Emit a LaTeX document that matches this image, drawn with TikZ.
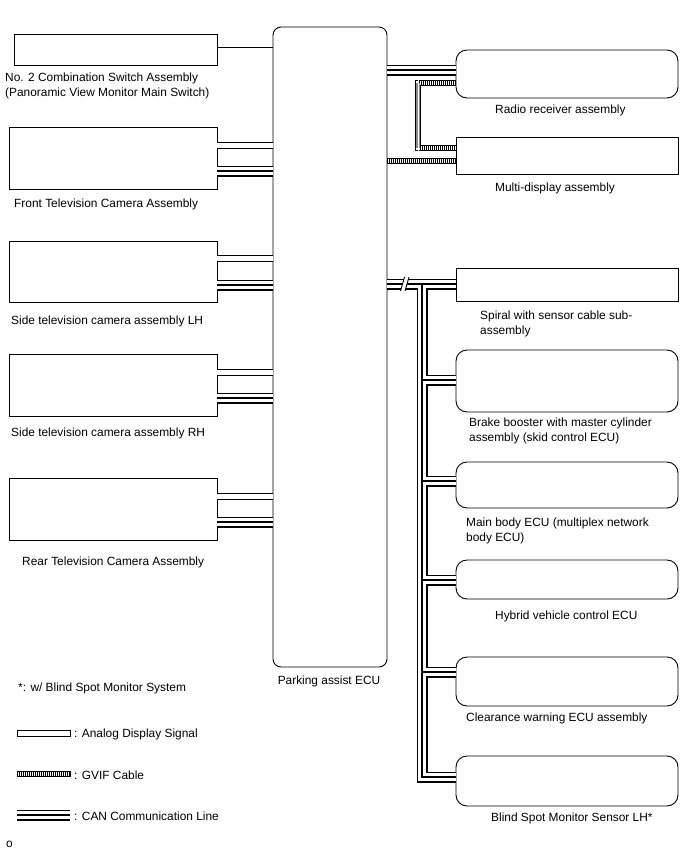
\documentclass[tikz,border=0pt]{standalone}
\usepackage{fontspec}
\setmainfont{Liberation Sans}
\begin{document}
\begin{tikzpicture}[x=1pt,y=-1pt,
  font=\fontsize{11.9}{15}\selectfont,
  box/.style={draw, line width=0.9pt, inner sep=0pt, outer sep=0pt, anchor=north west},
  rbox/.style={box, rounded corners=11pt},
  lbl/.style={anchor=west, inner sep=0pt, align=left, yshift=-1.5pt},
  wire/.style={line width=0.9pt},
  analog/.style={draw=black, double=white, double distance=5pt, line width=1pt},
  can/.style={line width=1.4pt, preaction={draw, solid, black, line width=11pt}, preaction={draw, solid, white, line width=8pt}},
  gvifbase/.style={draw, solid, black, line width=6pt, postaction={draw, solid, white, line width=4pt}},
  hatch/.style={line width=4pt, dash pattern=on 0.8pt off 1.2pt},
  gvif/.style={hatch, preaction={draw, solid, black, line width=6pt}, preaction={draw, solid, white, line width=4pt}}]
\useasboundingbox (0,0) rectangle (688,852);

% left boxes
\node[box, minimum width=203, minimum height=31] (sw) at (14,34) {};
\node[box, minimum width=208, minimum height=62] (front) at (9,127) {};
\node[box, minimum width=208, minimum height=61] (sidelh) at (9,241) {};
\node[box, minimum width=208, minimum height=62] (siderh) at (9,354) {};
\node[box, minimum width=208, minimum height=62] (rear) at (9,478) {};
% ECU
\node[box, rounded corners=8pt, minimum width=114, minimum height=640] (ecu) at (273,27) {};
% right boxes
\node[rbox, minimum width=222, minimum height=48] (radio) at (456,50) {};
\node[box, minimum width=222, minimum height=37] (multi) at (456,137) {};
\node[box, minimum width=222, minimum height=33] (spiral) at (456,268) {};
\node[rbox, minimum width=222, minimum height=62] (brake) at (456,350) {};
\node[rbox, minimum width=222, minimum height=46] (body) at (456,462) {};
\node[rbox, minimum width=222, minimum height=39] (hv) at (456,560) {};
\node[rbox, minimum width=222, minimum height=49] (clr) at (456,657) {};
\node[rbox, minimum width=222, minimum height=50] (bsm) at (456,756) {};

% labels
\node[lbl] at (5,84.5) {No. 2 Combination Switch Assembly\\(Panoramic View Monitor Main Switch)};
\node[lbl] at (14,203) {Front Television Camera Assembly};
\node[lbl] at (11,320) {Side television camera assembly LH};
\node[lbl] at (11,432) {Side television camera assembly RH};
\node[lbl] at (22,561) {Rear Television Camera Assembly};
\node[anchor=center, inner sep=0pt, yshift=-1.5pt] at (329,680) {Parking assist ECU};
\node[lbl] at (495,109) {Radio receiver assembly};
\node[lbl] at (495,187) {Multi-display assembly};
\node[lbl] at (480,322) {Spiral with sensor cable sub-\\assembly};
\node[lbl] at (469,429.5) {Brake booster with master cylinder\\assembly (skid control ECU)};
\node[lbl] at (466,529.5) {Main body ECU (multiplex network\\body ECU)};
\node[lbl] at (495,615) {Hybrid vehicle control ECU};
\node[lbl] at (466,717) {Clearance warning ECU assembly};
\node[lbl] at (491,817) {Blind Spot Monitor Sensor LH*};
\node[lbl] at (18,687) {*: w/ Blind Spot Monitor System};
\node[lbl] at (74,733) {: Analog Display Signal};
\node[lbl] at (74,774) {: GVIF Cable};
\node[lbl] at (74,815) {: CAN Communication Line};
\node[lbl] at (6,843) {o};

% left connectors
\draw[wire] (sw.east |- 0,47) -- (ecu.west |- 0,47);
\draw[analog] (front.east |- 0,145) -- (ecu.west |- 0,145);
\draw[can] (front.east |- 0,171) -- (ecu.west |- 0,171);
\draw[analog] (sidelh.east |- 0,258) -- (ecu.west |- 0,258);
\draw[can] (sidelh.east |- 0,285) -- (ecu.west |- 0,285);
\draw[analog] (siderh.east |- 0,372) -- (ecu.west |- 0,372);
\draw[can] (siderh.east |- 0,398) -- (ecu.west |- 0,398);
\draw[analog] (rear.east |- 0,496) -- (ecu.west |- 0,496);
\draw[can] (rear.east |- 0,522) -- (ecu.west |- 0,522);

% right connectors
\draw[can] (ecu.east |- 0,70) -- (radio.west |- 0,70);
\coordinate (gv1) at (418,83);
\coordinate (gv2) at (418,148);
\path[gvifbase] (radio.west |- gv1) -- (gv1) -- (gv2) -- (multi.west |- gv2);
\draw[hatch] (radio.west |- gv1) -- (gv1);
\draw[hatch] (gv2) -- (multi.west |- gv2);
\draw[line width=4pt, black!45] (gv1) -- (gv2);
\draw[line width=0.8pt, white] ([yshift=3pt]gv1) -- ([yshift=-3pt]gv2);
\draw[gvif] (ecu.east |- 0,161) -- (multi.west |- 0,161);

\coordinate (bus) at (422,284);
\draw[can] (ecu.east |- bus) -- (spiral.west |- bus)
  (bus) |- (bsm.west |- 0,777)
  (bus |- 0,380) -- (brake.west |- 0,380)
  (bus |- 0,481) -- (body.west |- 0,481)
  (bus |- 0,580) -- (hv.west |- 0,580)
  (bus |- 0,672) -- (clr.west |- 0,672);
% break mark
\fill[white] (400.5,291) -- (404.5,277) -- (409,277) -- (405,291) -- cycle;
\draw[line width=0.9pt] (400.5,291) -- (404.5,277) (405,291) -- (409,277);

% legend samples
\draw[line width=0.8pt] (17,730) rectangle (70,736);
\draw[gvif] (17,774) -- (70,774);
\draw[line width=0.8pt] (17,771) -- (17,777) (70,771) -- (70,777);
\draw[can] (17,815) -- (70,815);
\end{tikzpicture}
\end{document}
